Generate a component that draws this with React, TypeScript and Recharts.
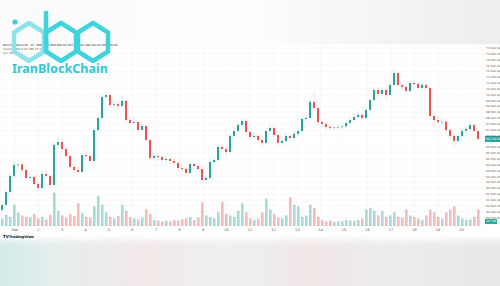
import React from "react";
import {
  ComposedChart,
  Bar,
  XAxis,
  YAxis,
  CartesianGrid,
  Cell,
  ReferenceLine,
} from "recharts";

// ---- DATA (prices in thousands USDT) ----
const opens = [
  60.15, 60.58, 61.69, 63.06, 64.0, 64.05, 63.57, 62.89, 62.97, 62.37,
  62.03, 63.23, 63.06, 62.29, 65.71, 65.96, 65.36, 64.77, 63.83, 63.57,
  63.4, 64.85, 64.77, 64.34, 66.99, 68.02, 69.81, 69.98, 69.13, 69.2,
  69.04, 69.47, 67.84, 67.59, 67.67, 66.99, 67.33, 66.13, 64.6, 64.77,
  64.68, 64.42, 64.51, 64.34, 64.17, 63.74, 63.65, 63.31, 64.08, 63.91,
  63.65, 62.71, 62.89, 64.25, 64.42, 65.54, 65.36, 65.11, 66.48, 66.9,
  67.42, 67.76, 66.82, 66.39, 66.48, 66.13, 65.88, 66.9, 67.16, 66.56,
  65.88, 66.05, 66.48, 66.3, 66.65, 66.9, 67.93, 68.02, 69.38, 68.87,
  67.67, 67.5, 67.25, 67.16, 67.2, 67.25, 67.3, 67.59, 67.84, 68.1,
  68.27, 68.02, 68.7, 69.55, 70.41, 70.07, 70.41, 69.98, 70.84, 71.86,
  70.84, 70.67, 70.32, 71.01, 70.93, 70.58, 70.84, 70.58, 68.19, 67.84,
  67.67, 67.7, 66.99, 66.48, 66.05, 66.48, 66.9, 67.07, 67.42, 66.9,
];
const closes = [
  60.58, 61.69, 63.06, 64.0, 64.05, 63.57, 62.89, 62.97, 62.37, 62.03,
  63.23, 63.06, 62.29, 65.71, 65.96, 65.36, 64.77, 63.83, 63.57, 63.4,
  64.85, 64.77, 64.34, 66.99, 68.02, 69.81, 69.98, 69.13, 69.2, 69.04,
  69.47, 67.84, 67.59, 67.67, 66.99, 67.33, 66.13, 64.6, 64.77, 64.68,
  64.42, 64.51, 64.34, 64.17, 63.74, 63.65, 63.31, 64.08, 63.91, 63.65,
  62.71, 62.89, 64.25, 64.42, 65.54, 65.36, 65.11, 66.48, 66.9, 67.42,
  67.76, 66.82, 66.39, 66.48, 66.13, 65.88, 66.9, 67.16, 66.56, 65.88,
  66.05, 66.48, 66.3, 66.65, 66.9, 67.93, 68.02, 69.38, 68.87, 67.67,
  67.5, 67.25, 67.16, 67.2, 67.25, 67.3, 67.59, 67.84, 68.1, 68.27,
  68.02, 68.7, 69.55, 70.41, 70.07, 70.41, 69.98, 70.84, 71.86, 70.84,
  70.67, 70.32, 71.01, 70.93, 70.58, 70.84, 70.58, 68.19, 67.84, 67.67,
  67.7, 66.99, 66.48, 66.05, 66.48, 66.9, 67.07, 67.42, 66.9, 66.22,
];
const highs = [
  60.8, 61.9, 63.3, 64.35, 64.4, 64.3, 63.8, 63.3, 63.1, 62.6,
  63.5, 63.6, 63.2, 66.0, 66.3, 66.2, 65.6, 64.9, 64.1, 63.9,
  65.1, 65.2, 64.95, 67.2, 68.3, 70.0, 70.3, 70.1, 69.5, 69.4,
  69.9, 69.6, 68.1, 68.0, 67.8, 67.6, 67.45, 66.25, 65.0, 65.0,
  64.85, 64.8, 64.7, 64.55, 64.3, 64.0, 63.85, 64.3, 64.25, 64.05,
  63.8, 63.2, 64.5, 64.7, 65.8, 65.75, 65.5, 66.7, 67.2, 67.7,
  68.0, 67.9, 67.0, 66.75, 66.6, 66.3, 67.15, 67.45, 67.3, 66.7,
  66.35, 66.75, 66.65, 66.9, 67.15, 68.2, 68.3, 69.7, 70.15, 69.0,
  67.9, 67.7, 67.45, 67.45, 67.5, 67.55, 67.8, 68.05, 68.35, 68.5,
  68.45, 68.95, 69.8, 70.7, 70.6, 70.7, 70.55, 71.1, 72.2, 71.95,
  71.0, 70.85, 71.25, 71.3, 71.1, 71.1, 70.95, 70.7, 68.4, 68.1,
  67.95, 67.85, 67.1, 66.6, 66.7, 67.15, 67.3, 67.75, 67.55, 67.0,
];
const lows = [
  59.95, 60.4, 61.5, 62.9, 63.7, 63.4, 62.7, 62.6, 62.2, 61.8,
  61.9, 62.8, 62.0, 62.1, 65.4, 65.1, 64.5, 63.6, 63.3, 63.1,
  63.3, 64.4, 64.1, 64.2, 66.8, 67.9, 69.5, 68.9, 68.8, 68.7,
  68.9, 67.6, 67.3, 67.35, 66.7, 66.8, 65.9, 64.4, 64.3, 64.4,
  64.2, 64.2, 64.1, 63.9, 63.5, 63.4, 63.05, 63.2, 63.7, 63.4,
  62.5, 62.45, 62.8, 64.05, 64.3, 65.1, 64.9, 65.0, 66.3, 66.75,
  67.3, 66.6, 66.15, 66.2, 65.9, 65.6, 65.75, 66.7, 66.35, 65.65,
  65.7, 65.9, 66.05, 66.1, 66.45, 66.8, 67.7, 67.9, 68.6, 67.4,
  67.25, 67.0, 66.95, 66.95, 67.0, 67.05, 67.15, 67.45, 67.7, 67.95,
  67.8, 67.9, 68.55, 69.4, 69.75, 69.9, 69.6, 69.85, 70.7, 70.6,
  70.4, 70.05, 70.2, 70.7, 70.35, 70.45, 70.35, 67.95, 67.2, 67.45,
  67.4, 66.6, 66.2, 65.55, 65.9, 66.3, 66.7, 66.9, 66.7, 66.1,
];
const volumes = [
  250, 380, 300, 700, 450, 350, 300, 280, 400, 250,
  300, 220, 380, 1100, 500, 350, 280, 400, 330, 750,
  420, 300, 280, 650, 1000, 700, 450, 300, 250, 330,
  700, 500, 300, 250, 220, 280, 550, 400, 200, 180,
  150, 180, 150, 200, 180, 220, 250, 300, 200, 280,
  780, 350, 300, 250, 450, 800, 400, 350, 300, 500,
  750, 450, 250, 200, 230, 450, 900, 550, 400, 280,
  250, 350, 950, 700, 650, 300, 350, 700, 600, 300,
  200, 150, 180, 130, 160, 150, 200, 180, 170, 200,
  250, 550, 600, 500, 350, 500, 300, 350, 450, 300,
  280, 550, 350, 300, 250, 200, 350, 550, 450, 300,
  250, 450, 550, 650, 350, 250, 200, 220, 300, 550,
];
const xTicks = [3.25, 9.1, 15, 20.9, 26.8, 32.6, 38.5, 44.4, 50.3, 56.1, 62, 67.9, 73.8, 79.6, 85.5, 91.4, 97.3, 103.1, 109, 114.9];
const xTickLabels = ["Mar", "2", "3", "4", "5", "6", "7", "8", "9", "10", "11", "12", "13", "14", "15", "16", "17", "18", "19", "20"];
// price-scale labels (66,000 and 59,000 sit under the last-price / volume boxes)
const priceTicks = [
  59.5, 60, 60.5, 61, 61.5, 62, 62.5, 63, 63.5, 64, 64.5, 65, 65.5,
  66.5, 67, 67.5, 68, 68.5, 69, 69.5, 70, 70.5, 71, 71.5, 72, 72.5, 73, 73.5, 74,
];
const lastPrice = 66.22;
const volumeMaValue = 150;
const legendLines = [
  "Bitcoin / TetherUS · 1h · BINANCE   O66,900.00 H67,000.00 L66,100.00 C66,220.00",
  "Volume SMA 9   20.78K   15.14K",
  "Vol · BTC",
];

const UP = "#26a69a";
const DOWN = "#ef5350";

const data = opens.map((o, i) => ({
  i,
  open: o,
  close: closes[i],
  high: highs[i],
  low: lows[i],
  range: [lows[i], highs[i]],
  volume: volumes[i],
}));

const Candle = (props: any) => {
  const { x, y, width, height, payload } = props;
  if (!payload) return null;
  const { open, close, high, low } = payload;
  const top = Math.min(y, y + height);
  const h = Math.abs(height);
  const color = close >= open ? UP : DOWN;
  const ratio = h / (high - low || 1);
  const bTop = top + (high - Math.max(open, close)) * ratio;
  const bBot = top + (high - Math.min(open, close)) * ratio;
  const cx = x + width / 2;
  return (
    <g>
      <line x1={cx} x2={cx} y1={top} y2={top + h} stroke={color} strokeOpacity={0.45} strokeWidth={0.5} />
      <rect x={x} y={bTop} width={width} height={Math.max(0.6, bBot - bTop)} fill={color} />
    </g>
  );
};

const fmtPrice = (v: number) =>
  Math.round(v * 1000).toLocaleString("en-US") + ".00";

const PriceBox = (props: any) => {
  const vb = props.viewBox || {};
  const x = vb.x + vb.width;
  const y = vb.y;
  return (
    <g>
      <rect x={x + 1} y={y - 3} width={15} height={6} fill={UP} />
      <text x={x + 2} y={y + 1.2} fontSize={3} fill="#fff" fontFamily="DejaVu Sans">
        {fmtPrice(lastPrice)}
      </text>
    </g>
  );
};
const VolBox = (props: any) => {
  const vb = props.viewBox || {};
  const x = vb.x + vb.width;
  const y = vb.y;
  return (
    <g>
      <rect x={x + 1} y={y - 2.5} width={12} height={5} fill={UP} />
      <text x={x + 2} y={y + 1} fontSize={3} fill="#fff" fontFamily="DejaVu Sans">
        20.78K
      </text>
    </g>
  );
};

const hexPoints = (cx: number, cy: number, rx: number, ry: number) => {
  const pts = [
    [cx, cy - ry],
    [cx + rx, cy - ry / 2],
    [cx + rx, cy + ry / 2],
    [cx, cy + ry],
    [cx - rx, cy + ry / 2],
    [cx - rx, cy - ry / 2],
  ];
  return pts.map((p) => p.join(",")).join(" ");
};

export default function App() {
  return (
    <div
      style={{
        position: "fixed",
        left: 0,
        top: 0,
        width: 500,
        height: 286,
        overflow: "hidden",
        background: "#ffffff",
      }}
    >
      {/* top blurred area */}
      <div
        style={{
          position: "absolute",
          left: 0,
          top: 0,
          width: 500,
          height: 44,
          background:
            "linear-gradient(90deg, #fbfbfb 0%, #fdfdfd 50%, #f3f3f3 80%, #ededed 100%)",
        }}
      />
      {/* bottom blurred band */}
      <div
        style={{
          position: "absolute",
          left: -10,
          top: 240,
          width: 520,
          height: 56,
          background:
            "linear-gradient(90deg, #cfeae7 0%, #e6eeee 12%, #f2e9e9 30%, #eef0f0 45%, #f1e7e7 62%, #eceeee 78%, #e6e8e8 100%)",
          filter: "blur(3px)",
        }}
      />
      <div style={{ position: "absolute", left: 0, top: 44 }}>
        <ComposedChart
          width={500}
          height={196}
          data={data}
          margin={{ top: 0, right: 0, left: 0, bottom: 0 }}
        >
          <CartesianGrid
            xAxisId="p"
            yAxisId="p"
            stroke="#f3f4f6"
            strokeWidth={0.6}
          />
          <XAxis
            xAxisId="p"
            dataKey="i"
            type="number"
            domain={[-0.5, 120.5]}
            ticks={xTicks}
            tickFormatter={(v: number) => xTickLabels[xTicks.indexOf(v)] ?? ""}
            height={14}
            tickLine={false}
            axisLine={false}
            tickSize={0}
            tickMargin={3}
            tick={{ fontSize: 3.5, fill: "#555", fontFamily: "DejaVu Sans" }}
            interval={0}
            allowDataOverflow
          />
          <XAxis
            xAxisId="v"
            dataKey="i"
            type="number"
            domain={[-0.5, 120.5]}
            hide
            allowDataOverflow
          />
          <YAxis
            yAxisId="p"
            orientation="right"
            width={16}
            domain={[58.78, 74.34]}
            ticks={priceTicks}
            tickFormatter={fmtPrice}
            tickLine={false}
            axisLine={false}
            tickSize={0}
            tickMargin={2}
            interval={0}
            tick={{ fontSize: 2.8, fill: "#555", fontFamily: "DejaVu Sans" }}
            allowDataOverflow
          />
          <YAxis yAxisId="v" hide domain={[0, 6000]} />
          <Bar
            xAxisId="v"
            yAxisId="v"
            dataKey="volume"
            barSize={2.6}
            isAnimationActive={false}
          >
            {data.map((d, k) => (
              <Cell
                key={k}
                fill={d.close >= d.open ? UP : DOWN}
                fillOpacity={0.4}
              />
            ))}
          </Bar>
          <Bar
            xAxisId="p"
            yAxisId="p"
            dataKey="range"
            barSize={2}
            shape={Candle}
            isAnimationActive={false}
          />
          <ReferenceLine
            xAxisId="p"
            yAxisId="p"
            y={lastPrice}
            stroke="none"
            ifOverflow="visible"
            label={<PriceBox />}
          />
          <ReferenceLine
            xAxisId="v"
            yAxisId="v"
            y={volumeMaValue}
            stroke="none"
            ifOverflow="visible"
            label={<VolBox />}
          />
        </ComposedChart>
      </div>
      {/* overlays */}
      <svg
        width={500}
        height={286}
        style={{ position: "absolute", left: 0, top: 0, pointerEvents: "none" }}
      >
        {legendLines.map((t, k) => (
          <text
            key={k}
            x={3}
            y={46 + k * 3.8}
            fontSize={2.8}
            fill={k === 0 ? "#222" : "#555"}
            fontFamily="DejaVu Sans"
          >
            {t}
          </text>
        ))}
        {/* logo */}
        <circle cx={15} cy={22} r={2.6} fill="#35cfdb" />
        <polygon
          points={hexPoints(29, 42, 15, 19)}
          fill="none"
          stroke="#8ee3ea"
          strokeWidth={4.5}
          strokeLinejoin="round"
        />
        <polygon
          points={hexPoints(61, 42, 15, 19)}
          fill="none"
          stroke="#3fd3de"
          strokeWidth={4.5}
          strokeLinejoin="round"
        />
        <line x1={46} y1={11} x2={46} y2={52} stroke="#3fd3de" strokeWidth={4.5} />
        <polygon
          points={hexPoints(93, 42, 15, 19)}
          fill="none"
          stroke="#3fd3de"
          strokeWidth={4.5}
          strokeLinejoin="round"
        />
        <text
          x={12}
          y={72.5}
          fontSize={11.5}
          fontWeight={700}
          fill="#2fc8d4"
          fontFamily="Noto Sans"
          textLength={96}
          lengthAdjust="spacingAndGlyphs"
        >
          IranBlockChain
        </text>
        {/* tradingview logo */}
        <text x={3} y={238} fontSize={4} fontWeight={700} fill="#131722" fontFamily="DejaVu Sans">
          TV
        </text>
        <text x={9} y={238} fontSize={3.6} fontWeight={700} fill="#131722" fontFamily="DejaVu Sans">
          TradingView
        </text>
      </svg>
    </div>
  );
}
